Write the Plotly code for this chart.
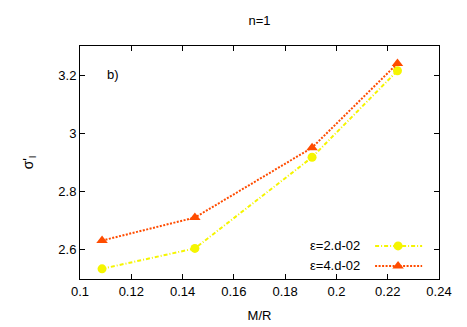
import plotly.graph_objects as go

mr = [0.1086, 0.1448, 0.1905, 0.2238]
eps2 = [2.535, 2.605, 2.918, 3.215]
eps4 = [2.632, 2.711, 2.951, 3.240]
labels = ["ε=2.d-02", "ε=4.d-02"]
yellow = "#f5f500"
orange = "#ff4c00"
font = "Liberation Sans, Arial, sans-serif"

fig = go.Figure()
fig.add_trace(go.Scatter(x=mr, y=eps2, mode="lines+markers",
                         line=dict(color=yellow, width=2, dash="4px,2px,1px,2px"),
                         marker=dict(symbol="circle", size=9, color=yellow),
                         showlegend=False))
fig.add_trace(go.Scatter(x=mr, y=eps4, mode="lines+markers",
                         line=dict(color=orange, width=2, dash="2px,1.5px"),
                         marker=dict(symbol="triangle-up", size=10, color=orange),
                         showlegend=False))

# manual legend (text left of sample, gnuplot style) on an overlay axis
rows = [0.142, 0.056]
styles = [(yellow, "4px,2px,1px,2px", "circle", 9), (orange, "2px,1.5px", "triangle-up", 10)]
for lab, yy, (c, d, sym, sz) in zip(labels, rows, styles):
    fig.add_trace(go.Scatter(x=[0.822, 0.953], y=[yy, yy], xaxis="x2", yaxis="y2",
                             mode="lines", line=dict(color=c, width=2, dash=d),
                             showlegend=False, hoverinfo="skip"))
    fig.add_trace(go.Scatter(x=[0.886], y=[yy], xaxis="x2", yaxis="y2",
                             mode="markers", marker=dict(symbol=sym, size=sz, color=c),
                             showlegend=False, hoverinfo="skip"))
    fig.add_annotation(text=lab, x=0.786, y=yy, xref="paper", yref="paper",
                       xanchor="right", yanchor="middle", showarrow=False,
                       font=dict(family=font, size=13, color="black"))

fig.add_annotation(text="b)", x=0.07, y=0.876, xref="paper", yref="paper",
                   xanchor="left", yanchor="middle", showarrow=False,
                   font=dict(family=font, size=13, color="black"))

axis_common = dict(showgrid=False, zeroline=False, showline=True, linecolor="black",
                   linewidth=1, mirror="ticks", ticks="inside", ticklen=5,
                   tickcolor="black", tickfont=dict(family=font, size=13, color="black"))

fig.update_layout(
    width=467, height=327,
    margin=dict(l=72, r=36, t=38, b=56),
    paper_bgcolor="white", plot_bgcolor="white",
    title=dict(text="n=1", x=0.5, xanchor="center", xref="paper", y=0.963, yanchor="middle",
               font=dict(family=font, size=13, color="black")),
    xaxis=dict(range=[0.1, 0.24], dtick=0.02, tick0=0.1,
               title=dict(text="M/R", font=dict(family=font, size=13, color="black"), standoff=13),
               **axis_common),
    yaxis=dict(range=[2.5, 3.3], dtick=0.2, tick0=2.6,
               title=dict(text="σ'<sub>l</sub>", font=dict(family=font, size=14, color="black"), standoff=21),
               **axis_common),
    xaxis2=dict(range=[0, 1], overlaying="x", visible=False, anchor="y2"),
    yaxis2=dict(range=[0, 1], overlaying="y", visible=False, anchor="x2"),
)

fig.write_html("out.html")
